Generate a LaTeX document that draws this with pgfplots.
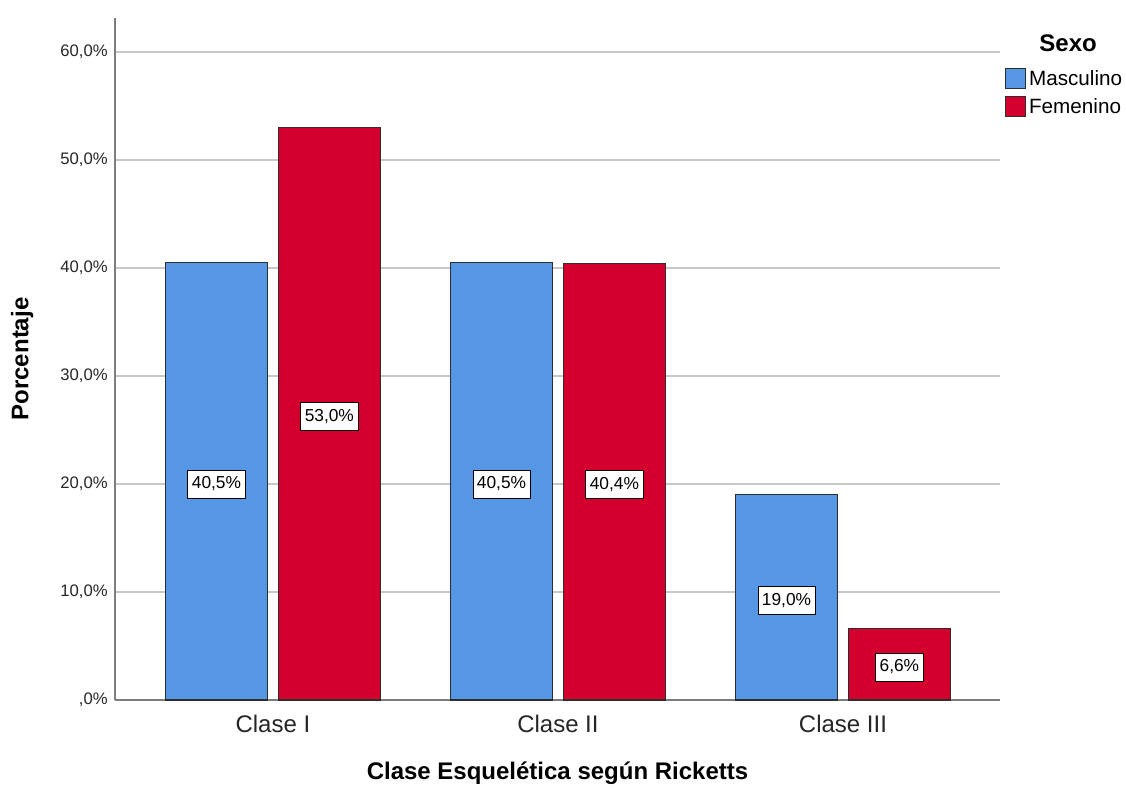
\documentclass[border=0pt]{standalone}
\usepackage{pgfplots}
\pgfplotsset{compat=1.18}
\usepackage{pgfplotstable}
\usepackage{fontspec}
\setmainfont{Liberation Sans}

\definecolor{masc}{RGB}{85,150,229}
\definecolor{fem}{RGB}{211,0,46}
\definecolor{gridgray}{RGB}{200,200,200}
\definecolor{axgray}{RGB}{125,125,125}
\definecolor{edge}{RGB}{45,45,45}

\pgfplotsset{boxleg/.style={legend image code/.code={\draw[##1] (0pt,-7.5pt) rectangle (15pt,7.5pt);}}}

% porcentaje por clase esqueletica y sexo
\pgfplotstableread{
x masc fem
0 40.5 53.0
1 40.5 40.4
2 19.0 6.6
}\ricketts

\begin{document}
\begin{tikzpicture}
\useasboundingbox (0,0) rectangle (844.5pt,591.75pt);
\begin{axis}[
  at={(86.25pt,66.75pt)}, anchor=south west,
  scale only axis, width=663.75pt, height=511.5pt,
  xmin=-0.554, xmax=2.551, ymin=0, ymax=63.15,
  clip=false,
  axis x line*=bottom, axis y line*=left,
  axis line style={axgray, line width=1pt, -},
  xtick={0,1,2}, xticklabels={Clase I, Clase II, Clase III},
  ytick={0,10,...,60},
  yticklabels={{,0\%},{10,0\%},{20,0\%},{30,0\%},{40,0\%},{50,0\%},{60,0\%}},
  ymajorgrids, grid style={gridgray, line width=1pt},
  major tick length=0pt,
  xticklabel style={font=\fontsize{18}{21}\selectfont, text=black!85, yshift=-8pt},
  yticklabel style={font=\fontsize{12.5}{15}\selectfont, text=black!85, xshift=-2pt},
  xlabel={Clase Esquelética según Ricketts},
  ylabel={Porcentaje},
  xlabel style={at={(axis description cs:0.5,-0.107)}, anchor=center,
    font=\bfseries\fontsize{18}{21}\selectfont},
  ylabel style={at={(axis description cs:-0.105,0.5)}, anchor=center,
    font=\bfseries\fontsize{18}{21}\selectfont},
  /pgf/number format/.cd, fixed, fixed zerofill, precision=1, use comma,
    assume math mode=true,
  /pgfplots/.cd,
  legend cell align=left,
  legend style={at={(axis description cs:1.0056,0.9267)}, anchor=north west,
    draw=none, fill=none, inner sep=0pt, row sep=5pt,
    font=\fontsize{15.5}{18}\selectfont,
    nodes={inner xsep=2pt, inner ysep=1pt}},
  lbl/.style={draw=none, mark=none, forget plot,
    nodes near coords={\pgfmathprintnumber{\pgfplotspointmeta}\%},
    point meta=explicit,
    every node near coord/.style={anchor=center, fill=white, draw=black,
      line width=0.6pt, inner xsep=3pt, minimum height=21pt, yshift=-2pt,
      font=\fontsize{13}{15}\selectfont}},
]
\addplot[ybar, bar width=0.358, bar shift=-0.198, fill=masc, draw=edge, line width=0.9pt, boxleg]
  table[x=x, y=masc]{\ricketts};
\addlegendentry{Masculino}
\addplot[ybar, bar width=0.358, bar shift=0.198, fill=fem, draw=edge, line width=0.9pt, boxleg]
  table[x=x, y=fem]{\ricketts};
\addlegendentry{Femenino}

\addplot[lbl] table[x expr=\thisrow{x}-0.198, y expr=\thisrow{masc}/2, meta=masc]{\ricketts};
\addplot[lbl] table[x expr=\thisrow{x}+0.198, y expr=\thisrow{fem}/2, meta=fem]{\ricketts};

\node[font=\bfseries\fontsize{18}{21}\selectfont] at (axis description cs:1.077,0.963) {Sexo};
\end{axis}
\end{tikzpicture}
\end{document}
